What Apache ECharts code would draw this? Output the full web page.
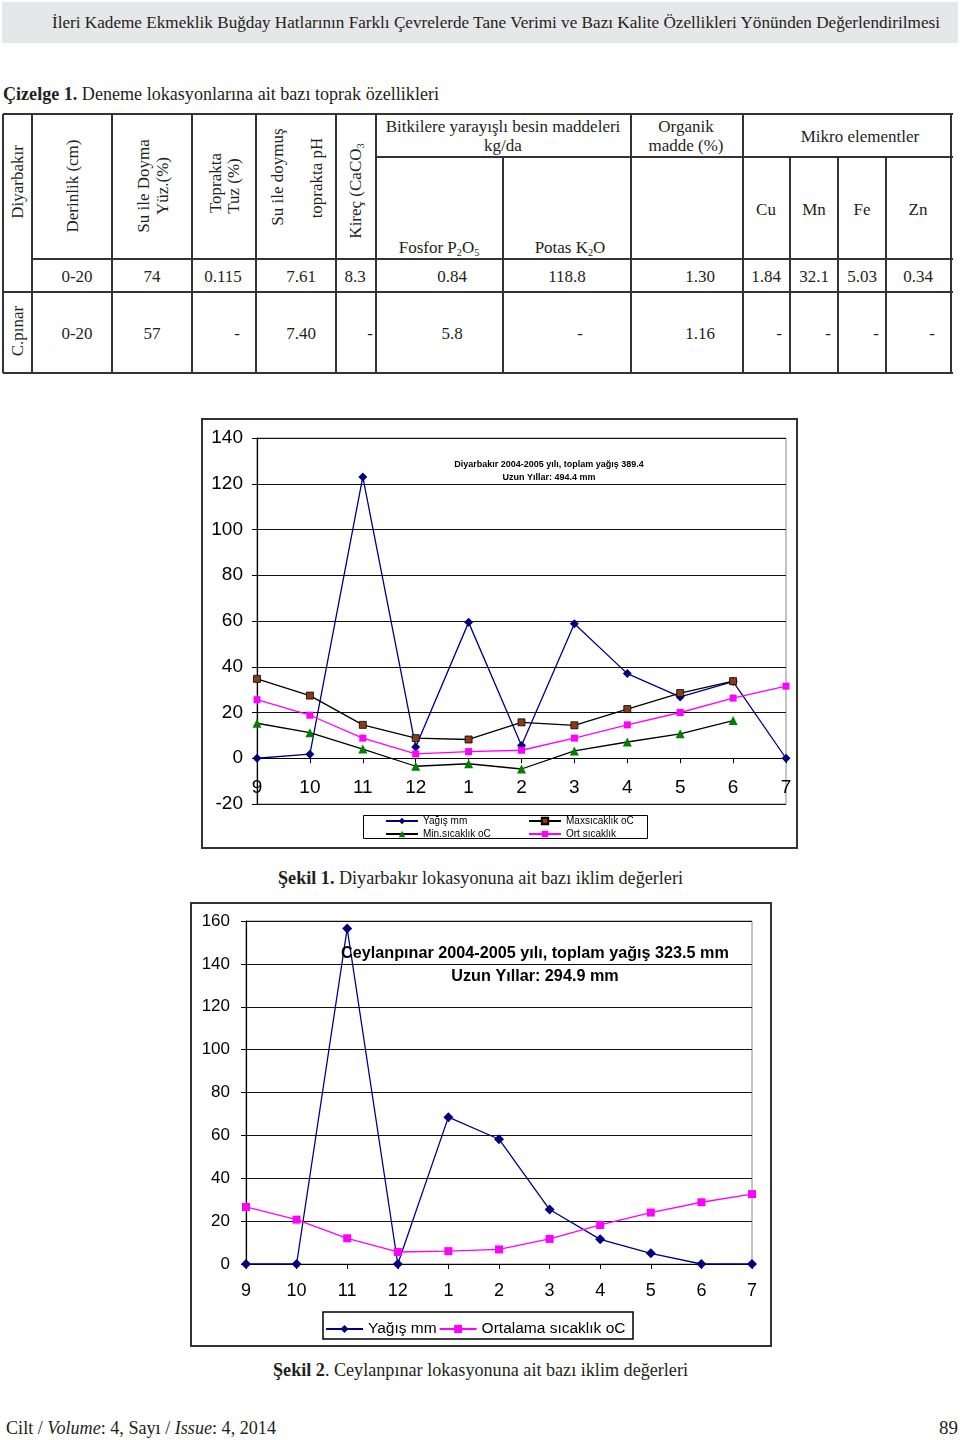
<!DOCTYPE html>
<html><head><meta charset="utf-8">
<script src="https://cdn.jsdelivr.net/npm/echarts@6/dist/echarts.min.js"></script>
<style>
body{margin:0;width:960px;height:1440px;position:relative;background:#fff;font-family:'Liberation Serif','Times New Roman',serif;color:#231f20;overflow:hidden;}
.abs{position:absolute;white-space:nowrap;line-height:1;}
.c{transform:translate(-50%,-50%);}
.r{transform:translate(-50%,-50%) rotate(-90deg);}
.ln{position:absolute;background:#333;}
sub{font-size:0.6em;vertical-align:-0.35em;line-height:0;}
</style></head><body>
<div style="position:absolute;left:2px;top:2px;width:956px;height:41px;background:#e6e7e8;"></div>
<div class="abs fit" data-x="52" data-w="888" data-cy="22" style="font-size:17px">İleri Kademe Ekmeklik Buğday Hatlarının Farklı Çevrelerde Tane Verimi ve Bazı Kalite Özellikleri Yönünden Değerlendirilmesi</div>
<div class="abs fit" data-x="3" data-w="436" data-cy="94" style="font-size:18px"><b>Çizelge 1.</b> Deneme lokasyonlarına ait bazı toprak özellikleri</div>
<div id="table"></div>
<div id="chart1" style="position:absolute;left:201px;top:418px;width:597px;height:431px;"></div>
<div class="abs fit" data-x="278" data-w="405" data-cy="878" style="font-size:18px"><b>Şekil 1.</b> Diyarbakır lokasyonuna ait bazı iklim değerleri</div>
<div id="chart2" style="position:absolute;left:190px;top:902px;width:582px;height:445px;"></div>
<div class="abs fit" data-x="273" data-w="415" data-cy="1370" style="font-size:18px"><b>Şekil 2</b>. Ceylanpınar lokasyonuna ait bazı iklim değerleri</div>
<div class="abs fit" data-x="6" data-w="270" data-cy="1428" style="font-size:18px">Cilt / <i>Volume</i>: 4, Sayı / <i>Issue</i>: 4, 2014</div>
<div class="abs fit" data-x="939" data-w="19" data-cy="1428" style="font-size:18px">89</div>
<script>
// ---------- Table data ----------
const tableHeaderRotated = [
  ['Diyarbakır', 17, 182],
  ['Derinlik (cm)', 72, 186],
  ['Su ile Doyma', 143, 186],
  ['Yüz.(%)', 162, 186],
  ['Toprakta', 215, 183],
  ['Tuz (%)', 233, 186],
  ['Su ile doymuş', 277, 177],
  ['toprakta pH', 316, 178],
  ['Kireç (CaCO<sub>3</sub>', 355, 191],
  ['C.pınar', 17, 331]
];
const tableHeaderText = [
  ['Bitkilere yarayışlı besin maddeleri', 503, 126],
  ['kg/da', 503, 145],
  ['Organik', 686, 126],
  ['madde (%)', 686, 145],
  ['Mikro elementler', 860, 136],
  ['Fosfor P<sub>2</sub>O<sub>5</sub>', 439, 247],
  ['Potas K<sub>2</sub>O', 570, 247],
  ['Cu', 766, 209], ['Mn', 814, 209], ['Fe', 862, 209], ['Zn', 918, 209]
];
const rowDiyarbakir = ['0-20','74','0.115','7.61','8.3','0.84','118.8','1.30','1.84','32.1','5.03','0.34'];
const rowCpinar = ['0-20','57','-','7.40','-','5.8','-','1.16','-','-','-','-'];
const rowX1 = [77,152,223,301,355,452,567,700,766,814,862,918];
const rowX2 = [77,152,237,301,370,452,580,700,779,828,876,932];
const hLines = [[3,951,114],[376,951,157],[32,951,259],[3,951,292],[3,951,373]];
const vLines = [[3,114,373],[32,114,373],[112,114,373],[192,114,373],[256,114,373],[336,114,373],[376,114,373],[503,157,373],[631,114,373],[743,114,373],[790,157,373],[838,157,373],[886,157,373],[951,114,373]];

const tbl = document.getElementById('table');
let html = '';
hLines.forEach(([x1,x2,y])=>{ html += `<div class="ln" style="left:${x1}px;top:${y-0.75}px;width:${x2-x1+1.5}px;height:1.5px"></div>`; });
vLines.forEach(([x,y1,y2])=>{ html += `<div class="ln" style="left:${x-0.75}px;top:${y1}px;width:1.5px;height:${y2-y1}px"></div>`; });
tableHeaderRotated.forEach(([t,x,y])=>{ html += `<div class="abs r" style="left:${x}px;top:${y}px;font-size:17px">${t}</div>`; });
tableHeaderText.forEach(([t,x,y])=>{ html += `<div class="abs c" style="left:${x}px;top:${y}px;font-size:17px">${t}</div>`; });
rowDiyarbakir.forEach((t,i)=>{ html += `<div class="abs c" style="left:${rowX1[i]}px;top:276px;font-size:17px">${t}</div>`; });
rowCpinar.forEach((t,i)=>{ html += `<div class="abs c" style="left:${rowX2[i]}px;top:333px;font-size:17px">${t}</div>`; });
tbl.innerHTML = html;

document.querySelectorAll('.fit').forEach(el=>{
  const x = +el.dataset.x, w = +el.dataset.w, cy = +el.dataset.cy;
  el.style.left = x + 'px';
  el.style.top = cy + 'px';
  el.style.transformOrigin = 'left center';
  const mw = el.getBoundingClientRect().width;
  el.style.transform = `translateY(-50%) scaleX(${w/mw})`;
});

// ---------- Chart data ----------
const months = ['9','10','11','12','1','2','3','4','5','6','7'];
const diyYagis = [0, 1.8, 123, 4.9, 59.4, 5.6, 58.8, 37, 26.8, 33.5, 0];
const diyMax   = [34.7, 27.4, 14.6, 8.8, 8.2, 15.7, 14.4, 21.5, 28.5, 33.7, null];
const diyMin   = [15.3, 11.2, 4.0, -3.5, -2.4, -4.7, 3.2, 7.1, 10.7, 16.5, null];
const diyOrt   = [25.6, 18.8, 8.8, 1.9, 2.9, 3.5, 8.8, 14.6, 20.0, 26.3, 31.5];
const ceyYagis = [0, 0, 156.5, 0, 68.5, 58.2, 25.4, 11.5, 5.0, 0, 0];
const ceyOrt   = [26.6, 20.7, 12.0, 5.6, 6.0, 6.8, 11.7, 18.2, 24.0, 28.8, 32.6];
const diyTicks = {min:-20, max:140, interval:20};
const ceyTicks = {min:0, max:160, interval:20};
const diyTitle = 'Diyarbakır 2004-2005 yılı, toplam yağış 389.4\nUzun Yıllar: 494.4 mm';
const ceyTitle = 'Ceylanpınar 2004-2005 yılı, toplam yağış 323.5 mm\nUzun Yıllar: 294.9 mm';

const SANS = "'Liberation Sans', Arial, sans-serif";

function lineSeries(name, data, color, lineColor, symbol, size, border){
  return {
    type:'line', name, data, symbol, symbolSize:size, showAllSymbol:true,
    connectNulls:false,
    lineStyle:{color:lineColor, width:1.3},
    itemStyle:{color, borderColor: border || color, borderWidth: border?0.8:0},
    emphasis:{disabled:true}, animation:false, z:3
  };
}

// grid 1 geometry: plot height 366 px for 160 units -> zero line sits 45.75 px above bottom
const grid1 = {left:56, right:12, top:20, bottom:45};
const plotH1 = 431 - grid1.top - grid1.bottom;
const zeroOffset1 = plotH1 * (0 - diyTicks.min) / (diyTicks.max - diyTicks.min);

const c1 = echarts.init(document.getElementById('chart1'), null, {renderer:'canvas'});
c1.setOption({
  animation:false,
  backgroundColor:'#fff',
  title:{text:diyTitle, left:348, top:40, textAlign:'center', padding:0,
    textStyle:{fontFamily:SANS, fontSize:9, fontWeight:'bold', color:'#000', lineHeight:13}},
  grid:{...grid1, show:true, borderColor:'#888', borderWidth:1, outerBoundsMode:'none', containLabel:false},
  legend:[
    {data:['Yağış mm','Min.sıcaklık oC'], orient:'vertical', left:184, top:398, itemGap:3, itemWidth:32, itemHeight:8, padding:0,
      textStyle:{fontFamily:SANS, fontSize:10, color:'#000'}, selectedMode:false},
    {data:['Maxsıcaklık oC','Ort sıcaklık'], orient:'vertical', left:327, top:398, itemGap:3, itemWidth:32, itemHeight:8, padding:0,
      textStyle:{fontFamily:SANS, fontSize:10, color:'#000'}, selectedMode:false}
  ],
  xAxis:{type:'category', data:months, boundaryGap:false, offset:-zeroOffset1,
    axisLine:{onZero:false, lineStyle:{color:'#000', width:1.2}},
    axisTick:{show:true, length:5, inside:false, lineStyle:{color:'#000'}},
    axisLabel:{fontFamily:SANS, fontSize:19, color:'#000', margin:20},
    splitLine:{show:false}},
  yAxis:{type:'value', ...diyTicks,
    axisLine:{show:true, lineStyle:{color:'#000', width:1.2}},
    axisTick:{show:true, length:5, lineStyle:{color:'#000'}},
    axisLabel:{fontFamily:SANS, fontSize:19, color:'#000', margin:14},
    splitLine:{show:true, lineStyle:{color:'#111', width:1.2}}},
  series:[
    lineSeries('Yağış mm', diyYagis, '#000080', '#000080', 'diamond', 9),
    lineSeries('Maxsıcaklık oC', diyMax, '#8b3a1a', '#000', 'rect', 7, '#000'),
    lineSeries('Min.sıcaklık oC', diyMin, '#008000', '#000', 'triangle', 9),
    lineSeries('Ort sıcaklık', diyOrt, '#ff00ff', '#ff00ff', 'rect', 7)
  ],
  graphic:[
    {type:'rect', shape:{x:1, y:1, width:595, height:429}, style:{fill:null, stroke:'#333', lineWidth:2}, silent:true},
    {type:'rect', shape:{x:162.5, y:397.5, width:284, height:23}, style:{fill:null, stroke:'#000', lineWidth:1}, silent:true, z:-1}
  ]
});

const c2 = echarts.init(document.getElementById('chart2'), null, {renderer:'canvas'});
c2.setOption({
  animation:false,
  backgroundColor:'#fff',
  title:{text:ceyTitle, left:345, top:40, textAlign:'center', padding:0,
    textStyle:{fontFamily:SANS, fontSize:16.2, fontWeight:'bold', color:'#000', lineHeight:23}},
  grid:{left:56, right:20, top:19, bottom:83, show:true, borderColor:'#888', borderWidth:1, outerBoundsMode:'none', containLabel:false},
  legend:{data:['Yağış mm','Ortalama sıcaklık oC'], orient:'horizontal', left:135, top:419, itemGap:2, itemWidth:37, itemHeight:10, padding:0,
      textStyle:{fontFamily:SANS, fontSize:15.5, color:'#000'}, selectedMode:false},
  xAxis:{type:'category', data:months, boundaryGap:false,
    axisLine:{onZero:true, lineStyle:{color:'#000', width:1.2}},
    axisTick:{show:true, length:5, inside:false, lineStyle:{color:'#000'}},
    axisLabel:{fontFamily:SANS, fontSize:18, color:'#000', margin:18},
    splitLine:{show:false}},
  yAxis:{type:'value', ...ceyTicks,
    axisLine:{show:true, lineStyle:{color:'#000', width:1.2}},
    axisTick:{show:true, length:5, lineStyle:{color:'#000'}},
    axisLabel:{fontFamily:SANS, fontSize:17, color:'#000', margin:16},
    splitLine:{show:true, lineStyle:{color:'#111', width:1.2}}},
  series:[
    lineSeries('Yağış mm', ceyYagis, '#000080', '#000080', 'diamond', 10),
    lineSeries('Ortalama sıcaklık oC', ceyOrt, '#ff00ff', '#ff00ff', 'rect', 8)
  ],
  graphic:[
    {type:'rect', shape:{x:1, y:1, width:580, height:443}, style:{fill:null, stroke:'#333', lineWidth:2}, silent:true},
    {type:'rect', shape:{x:133, y:410, width:310, height:27}, style:{fill:null, stroke:'#000', lineWidth:1.5}, silent:true, z:-1}
  ]
});
</script>
</body></html>
